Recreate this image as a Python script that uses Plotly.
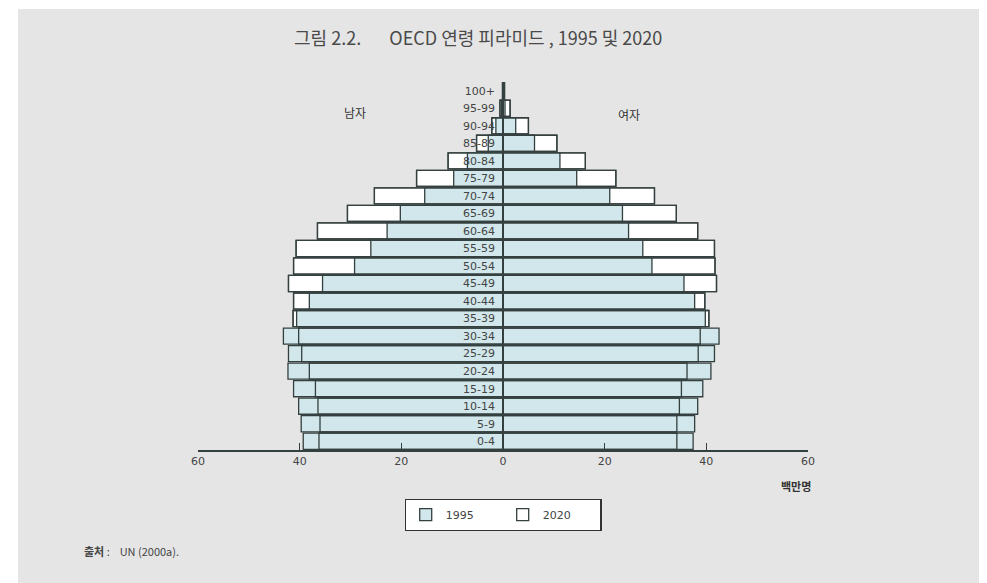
import plotly.graph_objects as go

categories = ["0-4", "5-9", "10-14", "15-19", "20-24", "25-29", "30-34", "35-39",
              "40-44", "45-49", "50-54", "55-59", "60-64", "65-69", "70-74", "75-79",
              "80-84", "85-89", "90-94", "95-99", "100+"]

male_1995 = [39.3, 39.7, 40.2, 41.2, 42.3, 42.2, 43.2, 40.6, 38.1, 35.5, 29.2, 26.0,
             22.8, 20.2, 15.4, 9.7, 7.0, 2.9, 1.4, 0.3, 0.05]
male_2020 = [36.2, 36.0, 36.4, 36.9, 38.1, 39.6, 40.2, 41.3, 41.2, 42.2, 41.2, 40.7,
             36.5, 30.6, 25.3, 17.0, 10.8, 5.2, 2.2, 0.6, 0.1]
female_1995 = [37.4, 37.7, 38.3, 39.3, 40.9, 41.6, 42.5, 39.8, 37.7, 35.6, 29.3, 27.5,
               24.7, 23.5, 21.0, 14.5, 11.2, 6.2, 2.5, 0.4, 0.1]
female_2020 = [34.2, 34.2, 34.7, 35.1, 36.2, 38.4, 38.8, 40.5, 39.7, 42.0, 41.7, 41.6,
               38.3, 34.1, 29.8, 22.2, 16.2, 10.6, 5.0, 1.4, 0.3]

tick_vals = [-60, -40, -20, 0, 20, 40, 60]
tick_text = ["60", "40", "20", "0", "20", "40", "60"]

KFONT = "Noto Sans CJK KR"
NFONT = "DejaVu Sans"
BLUE = "#d1e7eb"
EDGE = "#34403f"

# figure size (page has an 8px body margin)
OFF = 8
W, H = 979, 575
L = 198 - OFF
PLOT_R = 808 - OFF
T = 82 - OFF
PLOT_B = 450 - OFF
R = W - PLOT_R
B = H - PLOT_B


def px(x_page):
    return (x_page - OFF - L) / (PLOT_R - L)


def py(y_page):
    return (PLOT_B - (y_page - OFF)) / (PLOT_B - T)


fig = go.Figure()
line = dict(color=EDGE, width=1.3)

# 2020 (white, behind)
fig.add_trace(go.Bar(y=categories, x=[-v for v in male_2020], orientation="h",
                     marker=dict(color="white", line=line), name="2020",
                     legendgroup="2020", legendrank=2, showlegend=True))
fig.add_trace(go.Bar(y=categories, x=female_2020, orientation="h",
                     marker=dict(color="white", line=line), name="2020",
                     legendgroup="2020", showlegend=False))
# 1995 (blue)
fig.add_trace(go.Bar(y=categories, x=[-v for v in male_1995], orientation="h",
                     marker=dict(color=BLUE, line=line), name="1995",
                     legendgroup="1995", legendrank=1, showlegend=True))
fig.add_trace(go.Bar(y=categories, x=female_1995, orientation="h",
                     marker=dict(color=BLUE, line=line), name="1995",
                     legendgroup="1995", showlegend=False))
# 2020 outlines on top
fig.add_trace(go.Bar(y=categories, x=[-v for v in male_2020], orientation="h",
                     marker=dict(color="rgba(0,0,0,0)", line=line),
                     showlegend=False, hoverinfo="skip"))
fig.add_trace(go.Bar(y=categories, x=female_2020, orientation="h",
                     marker=dict(color="rgba(0,0,0,0)", line=line),
                     showlegend=False, hoverinfo="skip"))

fig.update_layout(
    width=W, height=H,
    margin=dict(l=L, r=R, t=T, b=B, autoexpand=False),
    barmode="overlay", bargap=0.08,
    paper_bgcolor="white", plot_bgcolor="rgba(0,0,0,0)",
    font=dict(family=NFONT, size=11, color="#444"),
    showlegend=True,
    legend=dict(orientation="h", x=0.5, xanchor="center", y=py(499), yanchor="top",
                bgcolor="white", bordercolor="#333", borderwidth=1.2,
                font=dict(family=NFONT, size=11, color="#444"),
                entrywidth=52, entrywidthmode="pixels", itemwidth=30,
                traceorder="normal"),
    xaxis=dict(range=[-60, 60], tickvals=tick_vals, ticktext=tick_text,
               showgrid=False, zeroline=False, showline=True, linecolor=EDGE,
               linewidth=1.5, ticks="inside", ticklen=7, tickcolor=EDGE, tickwidth=1.3,
               tickfont=dict(family=NFONT, size=11, color="#444"), fixedrange=True),
    yaxis=dict(type="category", categoryorder="array", categoryarray=categories,
               range=[-0.5, 20.5], anchor="free", position=0.5, showline=True,
               linecolor=EDGE, linewidth=1.6, showgrid=False, zeroline=False,
               ticks="", ticklabelstandoff=5,
               tickfont=dict(family=NFONT, size=11, color="#444"), fixedrange=True),
)

shapes = [
    # grey panel behind everything
    dict(type="rect", xref="paper", yref="paper", x0=px(18), x1=px(W + OFF + 20),
         y0=py(H + OFF + 20), y1=py(9),
         fillcolor="#e5e5e5", line=dict(width=0), layer="below"),
]
fig.update_layout(shapes=shapes)

NB = "\u00a0"
annotations = [
    dict(text="그림 2.2." + NB * 7 + "OECD 연령 피라미드" + NB + "," + NB + "1995 및 2020",
         x=px(478), y=py(37), font=dict(family=KFONT, size=18, color="#4a4a4a")),
    dict(text="남자", x=px(355), y=py(112), font=dict(family=KFONT, size=12, color="#333")),
    dict(text="여자", x=px(629), y=py(114), font=dict(family=KFONT, size=12, color="#333")),
    dict(text="<b>백만명</b>", x=px(813), y=py(486), xanchor="right",
         font=dict(family=KFONT, size=11, color="#333")),
    dict(text="<b>출처</b>" + NB + ":" + NB * 4 + "UN (2000a).", x=px(82), y=py(551),
         xanchor="left", font=dict(family=KFONT, size=11, color="#444")),
]
for a in annotations:
    a.update(xref="paper", yref="paper", showarrow=False)
    a.setdefault("xanchor", "center")
    a.setdefault("yanchor", "middle")
fig.update_layout(annotations=annotations)

fig.write_html("out.html")
